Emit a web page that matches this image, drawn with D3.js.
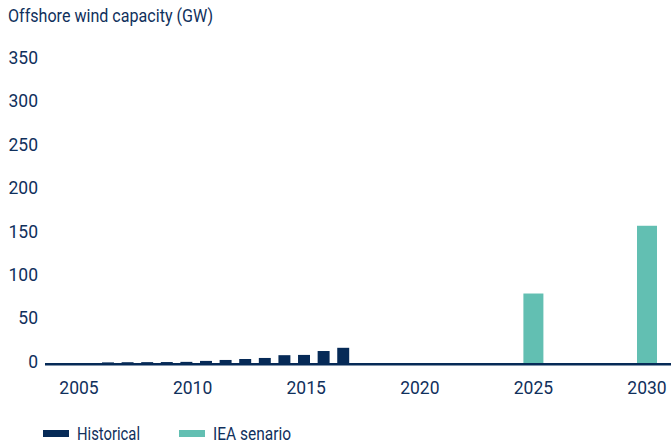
<!DOCTYPE html>
<html>
<head>
<meta charset="utf-8">
<script src="https://cdn.jsdelivr.net/npm/d3@7"></script>
<style>
  body { margin: 0; background: #fff; }
  svg { display: block; }
  text { font-family: Roboto, "Liberation Sans", sans-serif; }
</style>
</head>
<body>
<div id="chart"></div>
<script>
// historical capacity, GW
var histYears = [2005, 2006, 2007, 2008, 2009, 2010, 2011, 2012, 2013, 2014, 2015, 2016, 2017];
var histValues = [0.7, 0.9, 1.0, 1.1, 1.3, 2.4, 3.5, 4.6, 5.8, 9.0, 9.3, 13.8, 17.5];
// IEA scenario, GW
var scenYears = [2025, 2030];
var scenValues = [80, 158];
var yTicks = [0, 50, 100, 150, 200, 250, 300, 350];
var xTicks = [2005, 2010, 2015, 2020, 2025, 2030];
var seriesNames = ['Historical', 'IEA senario'];

var navy = '#062a57', teal = '#62bfb2', textC = '#10305c';
var width = 671, height = 446;

var svg = d3.select('#chart').append('svg')
  .attr('width', width)
  .attr('height', height);

var y = d3.scaleLinear().domain([0, 350]).range([363, 59]);
// year axis (labels + scenario bars)
var x = d3.scaleLinear().domain([2005, 2030]).range([79, 647]);
// historical bars sit on their own band
var xH = d3.scaleBand().domain(histYears).range([102, 349.2]).paddingInner(0.39).paddingOuter(0);

// the original face is a condensed one, so squeeze Roboto to the same width
svg.append('text')
  .attr('x', 8).attr('y', 22)
  .attr('textLength', 205)
  .attr('lengthAdjust', 'spacingAndGlyphs')
  .style('font-size', '17.5px')
  .style('fill', textC)
  .text('Offshore wind capacity (GW)');

// y labels
svg.selectAll('.ylab')
  .data(yTicks)
  .enter().append('text')
  .attr('class', 'ylab')
  .attr('x', 38)
  .attr('y', function(d) { return y(d) - 1.5; })
  .attr('dy', '0.36em')
  .attr('text-anchor', 'end')
  .style('font-size', '17.5px')
  .style('fill', textC)
  .text(function(d) { return d; });

svg.selectAll('.hbar')
  .data(histValues)
  .enter().append('rect')
  .attr('class', 'hbar')
  .attr('x', function(d, i) { return xH(histYears[i]); })
  .attr('width', xH.bandwidth())
  .attr('y', function(d) { return y(d); })
  .attr('height', function(d) { return y(0) - y(d); })
  .style('fill', navy);

svg.selectAll('.sbar')
  .data(scenValues)
  .enter().append('rect')
  .attr('class', 'sbar')
  .attr('x', function(d, i) { return x(scenYears[i]) - 10; })
  .attr('width', 20)
  .attr('y', function(d) { return y(d); })
  .attr('height', function(d) { return y(0) - y(d); })
  .style('fill', teal);

// baseline
svg.append('line')
  .attr('x1', 45).attr('x2', width)
  .attr('y1', y(0) + 1.2).attr('y2', y(0) + 1.2)
  .style('stroke', navy)
  .style('stroke-width', 2.5);

svg.selectAll('.xlab')
  .data(xTicks)
  .enter().append('text')
  .attr('class', 'xlab')
  .attr('x', function(d) { return x(d); })
  .attr('y', 394)
  .attr('text-anchor', 'middle')
  .style('font-size', '17.5px')
  .style('fill', textC)
  .text(function(d) { return d; });

// legend
var legX = [43, 179], legW = [63, 78];
var leg = svg.selectAll('.leg')
  .data(seriesNames)
  .enter().append('g')
  .attr('class', 'leg')
  .attr('transform', function(d, i) { return 'translate(' + legX[i] + ', 430)'; });
leg.append('rect')
  .attr('width', 26).attr('height', 7)
  .style('fill', function(d, i) { return i == 0 ? navy : teal; });
leg.append('text')
  .attr('x', 34).attr('y', 10)
  .attr('textLength', function(d, i) { return legW[i]; })
  .attr('lengthAdjust', 'spacingAndGlyphs')
  .style('font-size', '17.5px')
  .style('fill', textC)
  .text(function(d) { return d; });
</script>
</body>
</html>
